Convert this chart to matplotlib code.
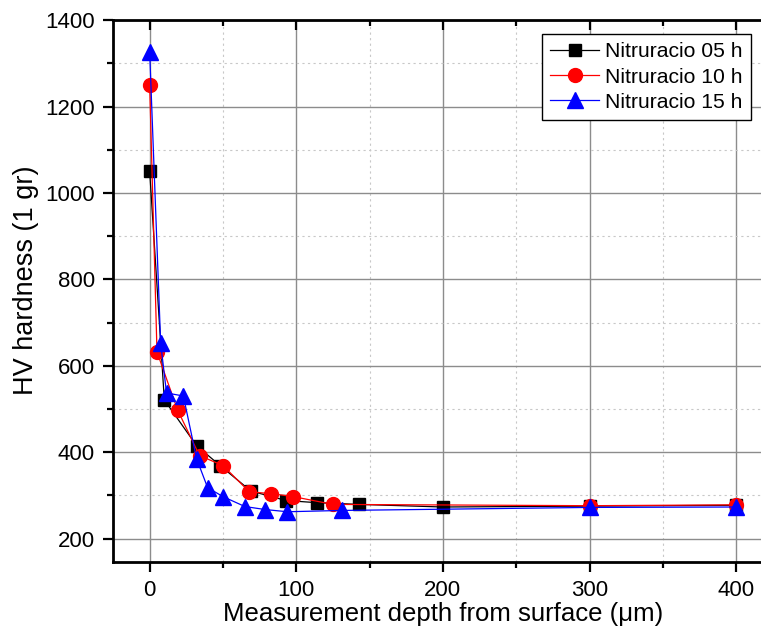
import matplotlib
matplotlib.use('Agg')
from matplotlib import pyplot as plt
from matplotlib.ticker import MultipleLocator

# depth (um) and HV hardness for each nitriding time
depth_05h = [0, 10, 32, 48, 69, 93, 114, 143, 200, 300, 400]
hv_05h = [1050, 521, 415, 369, 310, 288, 283, 279, 273, 275, 277]

depth_10h = [0, 5, 19, 34, 50, 68, 83, 98, 125, 300, 400]
hv_10h = [1250, 632, 498, 392, 369, 308, 304, 297, 279, 276, 278]

depth_15h = [0, 7.5, 11.5, 23, 32, 39.5, 50, 65, 79, 94, 131, 300, 400]
hv_15h = [1327, 652, 537, 530, 385, 318, 297, 274, 267, 262, 265, 272, 273]

labels = ['Nitruracio 05 h', 'Nitruracio 10 h', 'Nitruracio 15 h']

plt.rcParams['font.family'] = ['Liberation Sans', 'DejaVu Sans']

fig = plt.figure(figsize=(7.61, 6.32), dpi=100)
ax = fig.add_axes([0.1485, 0.111, 0.867, 0.857])

ax.plot(depth_05h, hv_05h, color='black', marker='s', markersize=8.5, lw=0.9, label=labels[0])
ax.plot(depth_10h, hv_10h, color='red', marker='o', markersize=10, lw=0.9, label=labels[1])
ax.plot(depth_15h, hv_15h, color='blue', marker='^', markersize=11, lw=0.9, label=labels[2])

ax.set_xlim(-25, 425)
ax.set_ylim(146, 1400)
ax.xaxis.set_major_locator(MultipleLocator(100))
ax.xaxis.set_minor_locator(MultipleLocator(50))
ax.yaxis.set_major_locator(MultipleLocator(200))
ax.yaxis.set_minor_locator(MultipleLocator(100))

ax.grid(which='major', color='#8c8c8c', lw=1.0, ls='-')
ax.grid(which='minor', color='#c8c8c8', lw=0.8, ls=(0, (2, 3)))
ax.set_axisbelow(True)

for side in ['left', 'bottom', 'top']:
    ax.spines[side].set_linewidth(2)
ax.spines['right'].set_visible(False)

ax.tick_params(axis='both', which='major', length=7, width=1.6, labelsize=16, pad=6)
ax.tick_params(axis='both', which='minor', length=4, width=1.6)
ax.tick_params(axis='x', which='both', direction='out', top=True)
ax.tick_params(axis='y', which='both', direction='out', right=False)
# top ticks point into the plot
for t in ax.xaxis.get_major_ticks() + ax.xaxis.get_minor_ticks():
    t.tick2line.set_marker(3)

ax.set_xlabel('Measurement depth from surface (\u03bcm)', fontsize=18.5, labelpad=1)
ax.set_ylabel('HV hardness (1 gr)', fontsize=19.5)
ax.yaxis.set_label_coords(-0.112, 0.52)

leg = ax.legend(loc='upper left', bbox_to_anchor=(0.650, 0.975), fontsize=15.2,
                frameon=True, fancybox=False, edgecolor='black', framealpha=1,
                handlelength=2.3, handletextpad=0.3, borderpad=0.4, borderaxespad=0,
                labelspacing=0.3)
leg.get_frame().set_linewidth(1.0)

fig.savefig('out.png', dpi=100)
